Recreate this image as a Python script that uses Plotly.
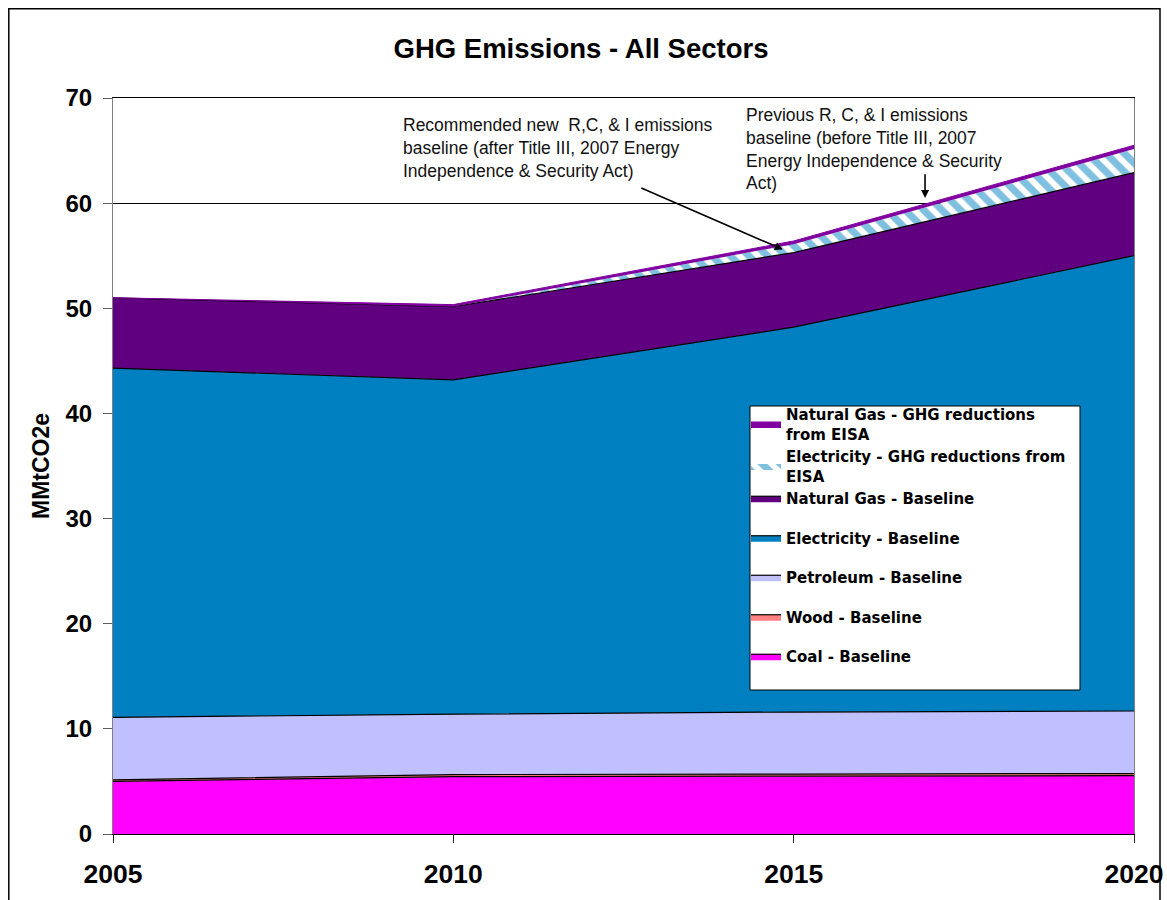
import plotly.graph_objects as go

years = [2005, 2010, 2015, 2020]
coal = [5.0, 5.45, 5.5, 5.55]
wood = [0.15, 0.2, 0.2, 0.2]
petroleum = [5.95, 5.75, 5.9, 5.95]
electricity = [33.2, 31.8, 36.6, 43.3]
natural_gas = [6.7, 6.95, 7.1, 7.9]
elec_reduction = [0.0, 0.0, 0.8, 2.25]
ng_reduction = [0.0, 0.2, 0.3, 0.35]

y_ticks = [0, 10, 20, 30, 40, 50, 60, 70]
x_ticks = [2005, 2010, 2015, 2020]

FONT = "Liberation Sans, Arial, sans-serif"
LEG_FONT = "DejaVu Sans, Liberation Sans, sans-serif"
W, H = 1167, 900
OFF = 0  # body margin removed below (post_script)
# plot area on screen: x 113..1134, y 98..834
PX0, PX1, PY0, PY1 = 113, 1134, 98, 834
L, T = PX0 - OFF, PY0 - OFF
R = W - (PX1 - OFF)
B = H - (PY1 - OFF)

def px_x(p):
    return (p - PX0) / (PX1 - PX0)

def px_y(p):
    return (PY1 - p) / (PY1 - PY0)

fig = go.Figure()

base = [
    ("Coal - Baseline", coal, "#FF00FF", "g1", 7),
    ("Wood - Baseline", wood, "#FF8080", "g2", 6),
    ("Petroleum - Baseline", petroleum, "#C0C0FF", "g3", 5),
    ("Electricity - Baseline", electricity, "#0080C0", "g4", 4),
    ("Natural Gas - Baseline", natural_gas, "#600080", "g5", 3),
]
for name, vals, col, grp, rank in base:
    fig.add_trace(go.Scatter(
        x=years, y=vals, name=name, mode="lines", stackgroup="one",
        line=dict(color="black", width=1.2), fillcolor=col,
        legendgroup=grp, legendrank=rank,
    ))

fig.add_trace(go.Scatter(
    x=years, y=elec_reduction, name="Electricity - GHG reductions from<br>EISA",
    mode="lines", stackgroup="one", line=dict(color="rgba(0,0,0,0)", width=0),
    fillcolor="white",
    fillpattern=dict(shape="\\", fgcolor="#0080C0", bgcolor="white", size=13, solidity=0.55),
    legendgroup="g5", legendrank=2,
))
fig.add_trace(go.Scatter(
    x=years, y=ng_reduction, name="Natural Gas - GHG reductions<br>from EISA",
    mode="lines", stackgroup="one", line=dict(color="#8000A0", width=1),
    fillcolor="#8000A0", legendgroup="g5", legendrank=1,
))

# legend box (Excel-style, larger than its entries)
fig.add_shape(type="rect", xref="paper", yref="paper",
              x0=px_x(750), x1=px_x(1080), y0=px_y(690), y1=px_y(406),
              line=dict(color="black", width=1), fillcolor="white", layer="above")
# outer chart frame
fig.add_shape(type="rect", xref="paper", yref="paper",
              x0=px_x(8.8), x1=px_x(1160), y0=px_y(960), y1=px_y(8.8),
              line=dict(color="black", width=1.5), fillcolor="rgba(0,0,0,0)", layer="below")

ann_font = dict(family=FONT, size=17.5, color="#111111")
fig.add_annotation(xref="paper", yref="paper", x=px_x(401), y=px_y(113),
                   xanchor="left", yanchor="top", align="left", showarrow=False,
                   text="Recommended new  R,C, & I emissions<br>baseline (after Title III, 2007 Energy<br>Independence & Security Act)",
                   font=ann_font)
fig.add_annotation(xref="paper", yref="paper", x=px_x(744), y=px_y(103),
                   xanchor="left", yanchor="top", align="left", showarrow=False,
                   text="Previous R, C, & I emissions<br>baseline (before Title III, 2007<br>Energy Independence & Security<br>Act)",
                   font=ann_font)
fig.add_annotation(x=2014.84, y=55.6, ax=2012.74, ay=61.5, xref="x", yref="y",
                   axref="x", ayref="y", text="", showarrow=True,
                   arrowhead=2, arrowsize=1, arrowwidth=1.6, arrowcolor="black")
fig.add_annotation(x=2016.93, y=60.5, ax=2016.93, ay=62.9, xref="x", yref="y",
                   axref="x", ayref="y", text="", showarrow=True,
                   arrowhead=2, arrowsize=1, arrowwidth=1.6, arrowcolor="black")

fig.update_layout(
    width=W, height=H,
    margin=dict(l=L, r=R, t=T, b=B, autoexpand=False),
    paper_bgcolor="white", plot_bgcolor="white",
    font=dict(family=FONT, color="black"),
    title=dict(text="GHG Emissions - All Sectors", x=(581 - OFF) / W, xanchor="center",
               y=1 - (48 - OFF) / H, yanchor="middle",
               font=dict(family=FONT, size=27.5, weight="bold", color="black")),
    showlegend=True,
    legend=dict(x=px_x(746), y=px_y(398), xanchor="left", yanchor="top",
                bgcolor="rgba(0,0,0,0)", borderwidth=0,
                traceorder="grouped", tracegroupgap=17,
                font=dict(family=LEG_FONT, size=15, weight="bold", color="black"),
                itemwidth=30),
    xaxis=dict(range=[2005, 2020], tickvals=x_ticks, ticktext=[str(v) for v in x_ticks],
               showgrid=False, zeroline=False, showline=True, linecolor="black",
               linewidth=1, mirror=True, ticks="outside", ticklen=8, tickcolor="#202020",
               ticklabelstandoff=8, ticklabeloverflow="allow",
               tickfont=dict(family=FONT, size=26.5, weight="bold", color="black")),
    yaxis=dict(range=[0, 70], tickvals=y_ticks, showgrid=True, gridcolor="black",
               gridwidth=1, zeroline=False, showline=True, linecolor="#808080",
               linewidth=1, mirror=True, ticks="outside", ticklen=9, tickcolor="#606060",
               ticklabelstandoff=6,
               tickfont=dict(family=FONT, size=24, weight="bold", color="black"),
               title=dict(text="MMtCO2e", standoff=9,
                          font=dict(family=FONT, size=23, weight="bold", color="black"))),
)

fig.write_html("out.html", config={"displayModeBar": False},
               post_script="document.body.style.margin='0';document.body.style.overflow='hidden';")
